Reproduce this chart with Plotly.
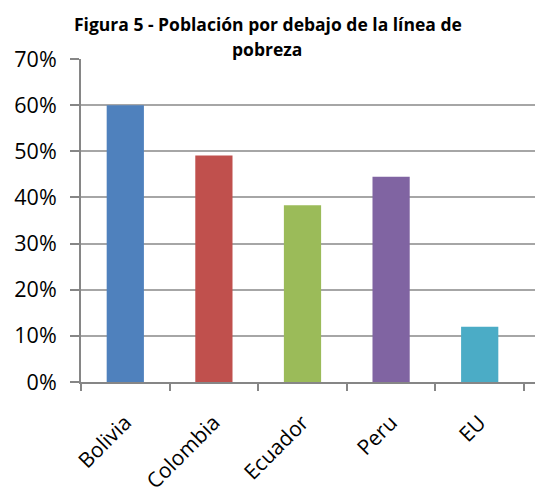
import plotly.graph_objects as go

categories = ["Bolivia", "Colombia", "Ecuador", "Peru", "EU"]
values = [0.60, 0.491, 0.383, 0.445, 0.12]
colors = ["#4F81BD", "#C0504D", "#9BBB59", "#8064A2", "#4BACC6"]
title_lines = ["Figura 5 - Población por debajo de la línea de", "pobreza"]
y_ticks = [0, 0.1, 0.2, 0.3, 0.4, 0.5, 0.6, 0.7]

fig = go.Figure(go.Bar(x=categories, y=values, marker=dict(color=colors, line=dict(width=0)), width=0.42))

W, H = 535, 495
L, R, T, B = 81, 0, 59, 113
ph = H - T - B
pw = W - L - R
cat_px = 88.6

fig.update_layout(
    width=W, height=H,
    margin=dict(l=L, r=R, t=T, b=B, autoexpand=False),
    paper_bgcolor="white", plot_bgcolor="white",
    showlegend=False,
    font=dict(family="Open Sans", color="#000000"),
    annotations=[
        dict(text="<b>%s</b>" % title_lines[0], xref="paper", yref="paper",
             x=(268 - L) / pw, y=1 + 35 / ph, xanchor="center", yanchor="middle",
             showarrow=False, font=dict(family="Open Sans", size=17.5, color="#000000")),
        dict(text="<b>%s</b>" % title_lines[1], xref="paper", yref="paper",
             x=(267 - L) / pw, y=1 + 10 / ph, xanchor="center", yanchor="middle",
             showarrow=False, font=dict(family="Open Sans", size=17.5, color="#000000")),
    ],
)

fig.update_xaxes(
    range=[-0.5, -0.5 + pw / cat_px], automargin=False,
    showline=True, linecolor="#868686", linewidth=2,
    ticks="outside", tickson="boundaries", ticklen=7, tickcolor="#868686", tickwidth=2,
    tickangle=-45, tickfont=dict(size=21, family="Open Sans"),
    ticklabelstandoff=18,
    showgrid=False,
)
fig.update_yaxes(
    range=[0, 0.7], tickvals=y_ticks, tickformat=".0%", automargin=False,
    showline=True, linecolor="#868686", linewidth=2,
    ticks="outside", ticklen=9, tickcolor="#868686", tickwidth=2,
    tickfont=dict(size=21.5, family="Open Sans"),
    ticklabelstandoff=9,
    showgrid=True, gridcolor="#a6a6a6", gridwidth=2,
    zeroline=False,
)

fig.write_html(
    "out.html",
    config={"displayModeBar": False},
    post_script="document.body.style.margin='0';document.body.style.overflow='hidden';",
)
